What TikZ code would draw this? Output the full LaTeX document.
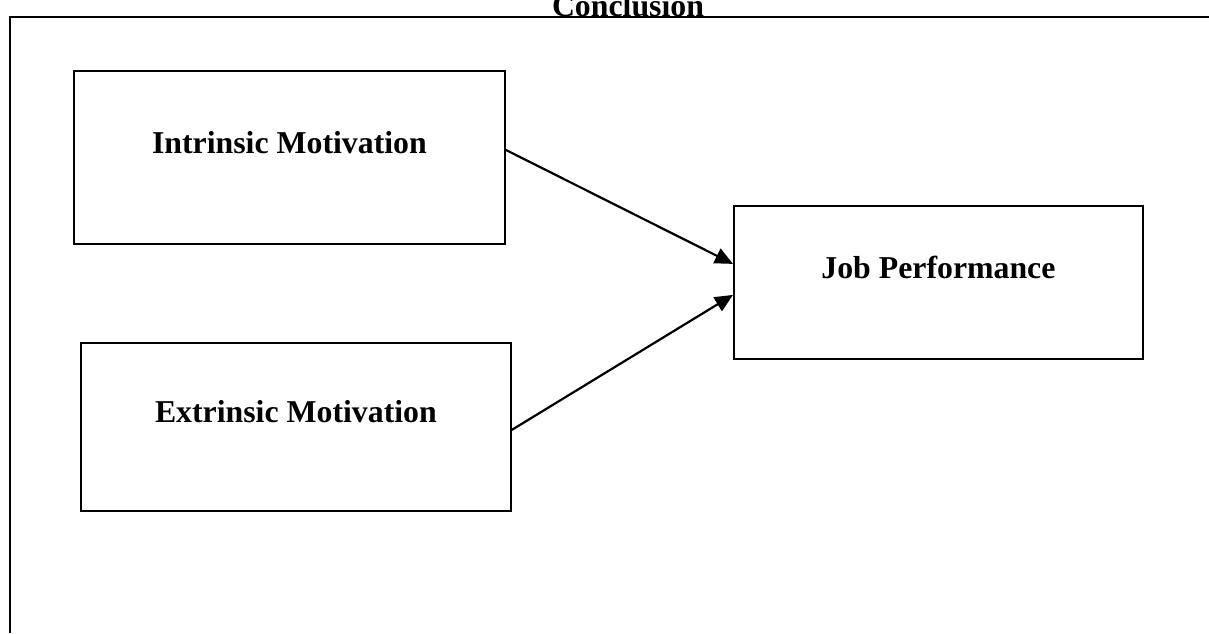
\documentclass[tikz,border=0pt]{standalone}
\usepackage{fontspec}
\setmainfont{Liberation Serif}
\usetikzlibrary{arrows.meta,positioning}

\begin{document}
\begin{tikzpicture}[x=1pt,y=-1pt,>={Triangle[length=18pt,width=16pt]},
  lbl/.style={font=\fontsize{31.8}{38}\selectfont\bfseries},
  box/.style={lbl,draw,line width=1.8pt,inner sep=0pt,anchor=north west},
  link/.style={->,line width=2.2pt}]
\useasboundingbox (0,0) rectangle (1209,633);
% frame and heading
\draw[line width=2pt] (9.5,633) |- (1209,17);
\node[lbl,anchor=base] (title) at (628,16) {Conclusion};
% variables
\node[box,minimum width=431pt,text height=83pt,text depth=90pt] (im) at (73,70) {Intrinsic Motivation};
\node[box,minimum width=430pt,text height=80pt,text depth=88pt] (ex) at (80,342) {Extrinsic Motivation};
\node[box,minimum width=409pt,text height=73pt,text depth=80pt] (jp) at (733,205) {Job Performance};
% paths
\draw[link] ([yshift=4pt]im.base east) -- ([yshift=15pt]jp.base west);
\draw[link] ([yshift=-7pt]ex.base east) -- ([yshift=-16pt]jp.base west);
\end{tikzpicture}
\end{document}
